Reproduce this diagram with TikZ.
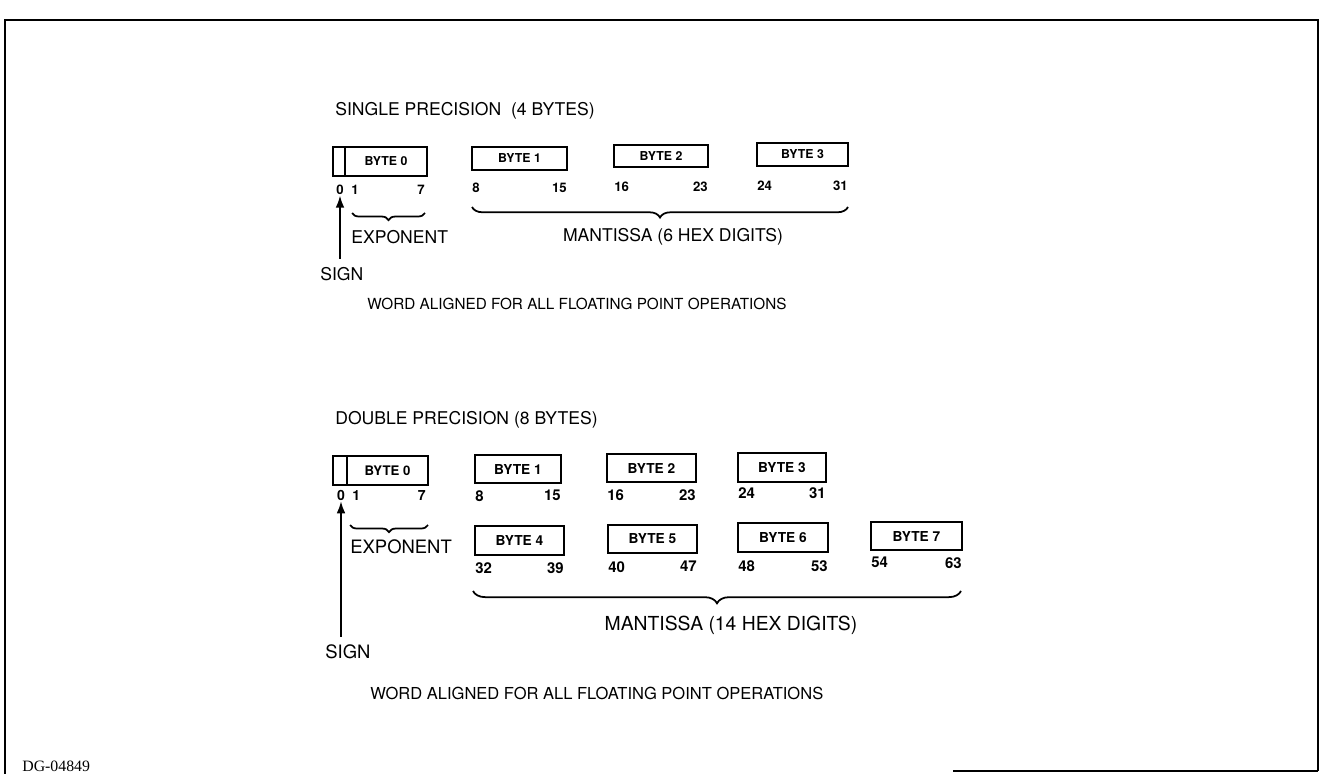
\documentclass[tikz,border=0pt]{standalone}
\usepackage{fontspec}
\setmainfont{TeX Gyre Heros}
\newfontfamily\dgfont{Liberation Serif}
\usetikzlibrary{arrows.meta,positioning,calc,decorations.pathreplacing}

\tikzset{
  bytebox/.style={draw, line width=1.2pt, inner sep=0pt, outer sep=0pt},
  bitno/.style={inner sep=0pt},
  lbl/.style={inner sep=0pt, anchor=west},
  fieldbrace/.style={decorate, decoration={brace, mirror, amplitude=#1}, line width=1pt},
  signarrow/.style={-{Latex[length=7pt,width=5pt]}, line width=1.2pt},
}

\begin{document}
\begin{tikzpicture}[x=0.02cm, y=-0.02cm]
        \useasboundingbox (0,0) rectangle (1321,774);
        % frame
        \draw[line width=0.9pt] (1318,771) -- (1318,20) -- (5,20) -- (5,774);
        \draw[line width=0.9pt] (953,771) -- (1318,771);
        \node[anchor=south west, inner sep=0pt, font=\dgfont\fontsize{9}{11}\selectfont]
          (dgno) at (22,772) {DG-04849};
        % single precision
        \begin{scope}[every node/.append style={font=\fontsize{10}{12}\selectfont}]
          \node[lbl] (stitle) at (335,111) {SINGLE PRECISION\ \ (4 BYTES)};
          \node[bytebox, minimum width=0.24cm, minimum height=0.58cm] (ssgn) at (339,161.5) {};
          \node[bytebox, minimum width=1.64cm, minimum height=0.58cm, right=0pt of ssgn,
            font=\fontsize{7}{8}\selectfont\bfseries] (sb0) {BYTE 0};
          \node[bitno, anchor=north, font=\fontsize{7.5}{8}\selectfont\bfseries] (szero) at (340,185) {0};
          \node[bitno, anchor=north west, font=\fontsize{7.5}{8}\selectfont\bfseries] (slo0) at (351,185) {1};
          \node[bitno, anchor=north east, font=\fontsize{7.5}{8}\selectfont\bfseries] (shi0) at (425,185) {7};
          \foreach \n/\xa/\xb/\ya/\yb/\yd/\lo/\hi in
            {1/472/567/147/170/183/8/15, 2/614/708/145/167/182/16/23, 3/757/848/143/166/181/24/31}{
            \node[bytebox, minimum width={(\xb-\xa)*0.02cm}, minimum height={(\yb-\ya)*0.02cm},
              font=\fontsize{7}{8}\selectfont\bfseries] (sb\n) at ({(\xa+\xb)/2},{(\ya+\yb)/2}) {BYTE \n};
            \node[bitno, anchor=north west, font=\fontsize{7.5}{8}\selectfont\bfseries] (slo\n) at (\xa,\yd) {\lo};
            \node[bitno, anchor=north east, font=\fontsize{7.5}{8}\selectfont\bfseries] (shi\n) at (\xb,\yd) {\hi};
          }
          \draw[fieldbrace=4pt] (352,213) -- (425,213);
          \node[lbl] (sexp) at (351,237) {EXPONENT};
          \draw[fieldbrace=6pt] (472,207) -- (848,207);
          \node[inner sep=0pt] (sman) at (673,237) {MANTISSA (6 HEX DIGITS)};
          \node[lbl] (ssign) at (320,274) {SIGN};
          \draw[signarrow] (ssign.north -| szero.south) ++(0,-8) coordinate (stail) -- (szero.south);
          \node[lbl, font=\fontsize{8.7}{10}\selectfont] (salign) at (367,304)
            {WORD ALIGNED FOR ALL FLOATING POINT OPERATIONS};
        \end{scope}
        % double precision
        \begin{scope}[every node/.append style={font=\fontsize{10.5}{12}\selectfont}]
          \node[lbl, font=\fontsize{10}{12}\selectfont] (dtitle) at (335,420) {DOUBLE PRECISION (8 BYTES)};
          \node[bytebox, minimum width=0.28cm, minimum height=0.58cm] (dsgn) at (340,470.5) {};
          \node[bytebox, minimum width=1.62cm, minimum height=0.58cm, right=0pt of dsgn,
            font=\fontsize{7.5}{8}\selectfont\bfseries] (db0) {BYTE 0};
          \node[bitno, anchor=north, font=\fontsize{8}{9}\selectfont\bfseries] (dzero) at (341,490) {0};
          \node[bitno, anchor=north west, font=\fontsize{8}{9}\selectfont\bfseries] (dlo0) at (352,490) {1};
          \node[bitno, anchor=north east, font=\fontsize{8}{9}\selectfont\bfseries] (dhi0) at (426,490) {7};
          \foreach \n/\xa/\xb/\ya/\yb/\yd/\lo/\hi in
            {1/475/561/455/483/490/8/15, 2/607/696/454/482/489/16/23, 3/738/826/453/482/487/24/31,
             4/475/564/526/555/562/32/39, 5/608/697/525/553/561/40/47, 6/738/828/523/552/560/48/53,
             7/871/962/522/550/557/54/63}{
            \node[bytebox, minimum width={(\xb-\xa)*0.02cm}, minimum height={(\yb-\ya)*0.02cm},
              font=\fontsize{7.8}{9}\selectfont\bfseries] (db\n) at ({(\xa+\xb)/2},{(\ya+\yb)/2}) {BYTE \n};
            \node[bitno, anchor=north west, font=\fontsize{8.5}{9}\selectfont\bfseries] (dlo\n) at (\xa,\yd) {\lo};
            \node[bitno, anchor=north east, font=\fontsize{8.5}{9}\selectfont\bfseries] (dhi\n) at (\xb,\yd) {\hi};
          }
          \draw[fieldbrace=4pt] (350,525) -- (428,525);
          \node[lbl] (dexp) at (350,547) {EXPONENT};
          \draw[fieldbrace=7pt] (473,591) -- (961,591);
          \node[inner sep=0pt, font=\fontsize{11}{13}\selectfont] (dman) at (731,625) {MANTISSA (14 HEX DIGITS)};
          \node[lbl] (dsign) at (325,652) {SIGN};
          \draw[signarrow] (dsign.north -| dzero.south) ++(0,-8) coordinate (dtail) -- (dzero.south);
          \node[lbl, font=\fontsize{9.4}{11}\selectfont] (dalign) at (370,693)
            {WORD ALIGNED FOR ALL FLOATING POINT OPERATIONS};
        \end{scope}
      \end{tikzpicture}
\end{document}
